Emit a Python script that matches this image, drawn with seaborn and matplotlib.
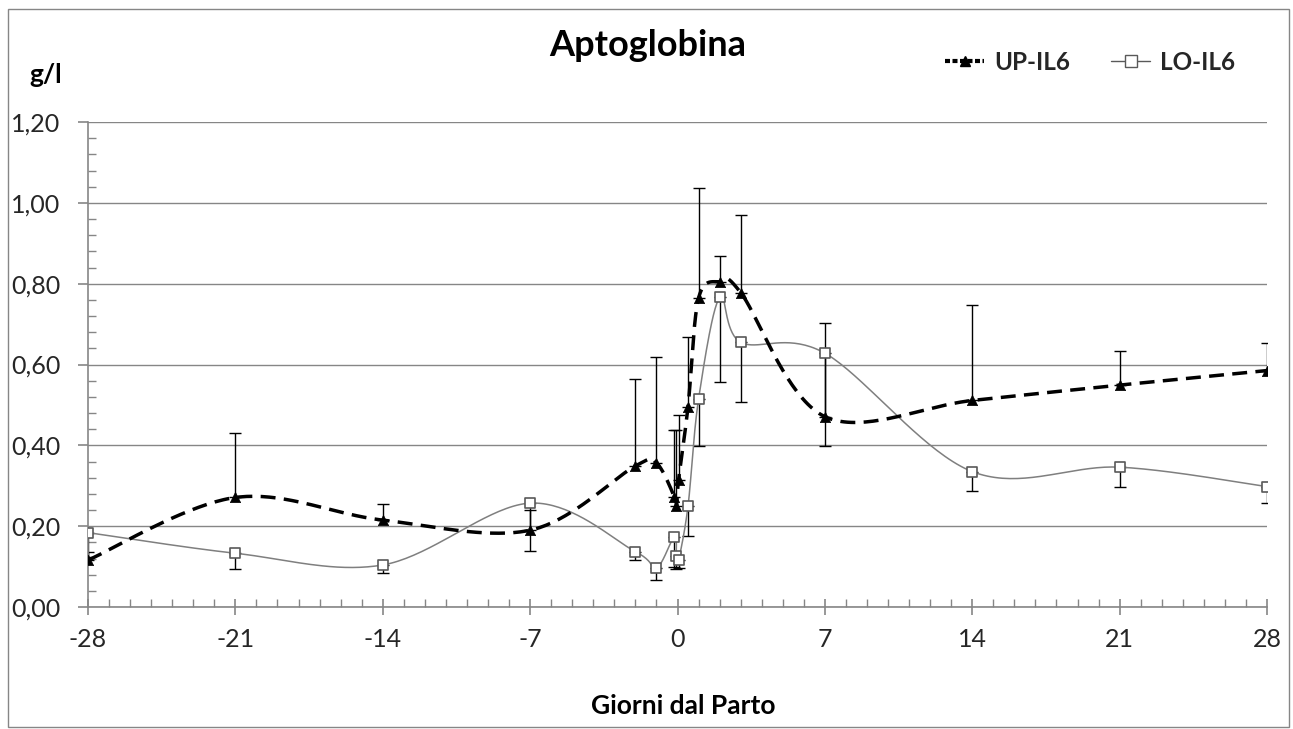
import numpy as np
import pandas as pd
import matplotlib
matplotlib.use("Agg")
import matplotlib.pyplot as plt
import seaborn as sns
from matplotlib.lines import Line2D
from matplotlib.patches import Rectangle
from matplotlib.ticker import MultipleLocator, FuncFormatter

# ---------------- data ----------------
days = [-28, -21, -14, -7, -2, -1, -0.15, -0.05, 0.05, 0.5, 1, 2, 3, 7, 14, 21, 28]
up_il6 = [0.116, 0.271, 0.215, 0.190, 0.349, 0.356, 0.273, 0.250, 0.314, 0.496,
          0.764, 0.805, 0.778, 0.471, 0.511, 0.549, 0.585]
up_err = [0.020, 0.159, 0.040, 0.050, 0.215, 0.263, 0.165, 0.188, 0.162, 0.173,
          0.273, 0.064, 0.191, 0.231, 0.235, 0.085, 0.069]
lo_il6 = [0.184, 0.133, 0.104, 0.257, 0.137, 0.097, 0.174, 0.125, 0.116, 0.250,
          0.514, 0.766, 0.655, 0.628, 0.335, 0.346, 0.298]
lo_err = [0.060, 0.039, 0.021, 0.118, 0.021, 0.030, 0.074, 0.030, 0.020, 0.075,
          0.116, 0.209, 0.148, 0.229, 0.048, 0.050, 0.041]
x_ticks = [-28, -21, -14, -7, 0, 7, 14, 21, 28]
y_ticks = [0.0, 0.2, 0.4, 0.6, 0.8, 1.0, 1.2]
title = "Aptoglobina"
y_unit = "g/l"
x_label = "Giorni dal Parto"
series_names = ["UP-IL6", "LO-IL6"]

# ---------------- style ----------------
sns.set_theme(style="white")
plt.rcParams['font.family'] = ['Lato', 'DejaVu Sans']
GRAY = "#868686"

W, H = 1293, 729
fig = plt.figure(figsize=(W / 100, H / 100), dpi=100)
L, R, T, B = 88, 1267, 122, 607
ax = fig.add_axes([L / W, 1 - B / H, (R - L) / W, (B - T) / H])


def excel_smooth(x, y, sx, sy, n=40):
    """Bezier smoothing like Excel's 'smoothed line', done in screen-like units."""
    P = np.column_stack([np.asarray(x, float) * sx, np.asarray(y, float) * sy])
    out = []
    for i in range(len(P) - 1):
        p0 = P[i - 1] if i > 0 else P[i]
        p1, p2 = P[i], P[i + 1]
        p3 = P[i + 2] if i + 2 < len(P) else P[i + 1]
        c1 = p1 + (p2 - p0) / 6.0
        c2 = p2 - (p3 - p1) / 6.0
        t = np.linspace(0, 1, n)[:, None]
        seg = ((1 - t) ** 3) * p1 + 3 * ((1 - t) ** 2) * t * c1 + 3 * (1 - t) * t ** 2 * c2 + t ** 3 * p2
        out.append(seg if i == 0 else seg[1:])
    S = np.vstack(out)
    return S[:, 0] / sx, S[:, 1] / sy


sx = (R - L) / 56.0
sy = (B - T) / 1.2

ux, uy = excel_smooth(days, up_il6, sx, sy)
lx, ly = excel_smooth(days, lo_il6, sx, sy)

# gridlines
ax.set_axisbelow(True)
ax.yaxis.grid(True, color=GRAY, linewidth=1.0)
ax.xaxis.grid(False)

# error bars (UP upward, LO downward)
ax.errorbar(days, up_il6, yerr=[np.zeros(len(days)), up_err], fmt='none',
            ecolor='black', elinewidth=1.0, capsize=4, capthick=1.0, zorder=2)
ax.errorbar(days, lo_il6, yerr=[lo_err, np.zeros(len(days))], fmt='none',
            ecolor='black', elinewidth=1.0, capsize=4, capthick=1.0, zorder=2)

# smoothed lines
sns.lineplot(x=lx, y=ly, sort=False, estimator=None, ax=ax, color="#7f7f7f",
             linewidth=1.1, zorder=3)
sns.lineplot(x=ux, y=uy, sort=False, estimator=None, ax=ax, color="black",
             linewidth=2.5, zorder=4)
ax.lines[-1].set_dashes([4.3, 2.4])

# markers
sns.scatterplot(x=days, y=lo_il6, ax=ax, marker='s', s=60, facecolor='white',
                edgecolor="#595959", linewidth=1.2, zorder=5)
sns.scatterplot(x=days, y=up_il6, ax=ax, marker='^', s=55, color='black',
                edgecolor='black', linewidth=0.5, zorder=6)

# axes
ax.set_xlim(-28, 28)
ax.set_ylim(0, 1.2)
ax.set_xticks(x_ticks)
ax.set_yticks(y_ticks)
ax.xaxis.set_minor_locator(MultipleLocator(1))
ax.yaxis.set_minor_locator(MultipleLocator(0.04))
ax.yaxis.set_major_formatter(FuncFormatter(lambda v, p: f"{v:.2f}".replace('.', ',')))
ax.xaxis.set_major_formatter(FuncFormatter(lambda v, p: f"{int(round(v))}"))
for s in ['top', 'right']:
    ax.spines[s].set_visible(False)
for s in ['left', 'bottom']:
    ax.spines[s].set_color(GRAY)
    ax.spines[s].set_linewidth(1.2)
ax.tick_params(axis='y', which='major', direction='out', length=7, width=1.2,
               color=GRAY, labelsize=18, pad=13, left=True)
ax.tick_params(axis='y', which='minor', direction='in', length=5.5, width=1.0,
               color=GRAY, left=True)
ax.tick_params(axis='x', which='major', direction='inout', length=12, width=1.2,
               color=GRAY, labelsize=18, pad=9, bottom=True)
ax.tick_params(axis='x', which='minor', direction='in', length=5.5, width=1.0,
               color=GRAY, bottom=True)
ax.set_xlabel("")
ax.set_ylabel("")

# texts
fig.text(648 / W, 1 - 45 / H, title, ha='center', va='center', fontsize=26,
         fontweight='bold', color='black')
fig.text(46 / W, 1 - 75 / H, y_unit, ha='center', va='center', fontsize=19,
         fontweight='bold', color='black')
fig.text(683 / W, 1 - 706 / H, x_label, ha='center', va='center', fontsize=19,
         fontweight='bold', color='black')

# legend
h_up = Line2D([], [], color='black', linewidth=3.0, linestyle=(0, (1.2, 0.6)),
              marker='^', markersize=7, markerfacecolor='black')
h_lo = Line2D([], [], color='#595959', linewidth=1.0, marker='s', markersize=8,
              markerfacecolor='white', markeredgecolor='#595959')
leg = fig.legend([h_up, h_lo], series_names, loc='center',
                 bbox_to_anchor=(1090 / W, 1 - 62 / H), ncol=2, frameon=False,
                 handlelength=1.6, handletextpad=0.4, columnspacing=1.7,
                 prop={'weight': 'bold', 'size': 17.5, 'family': ['Lato', 'DejaVu Sans']})

# outer frame
fig.patches.append(Rectangle((8 / W, 2 / H), (1289 - 8) / W, (720 - 2) / H,
                             transform=fig.transFigure, fill=False,
                             edgecolor=GRAY, linewidth=1.0))

fig.savefig("out.png", dpi=100)
